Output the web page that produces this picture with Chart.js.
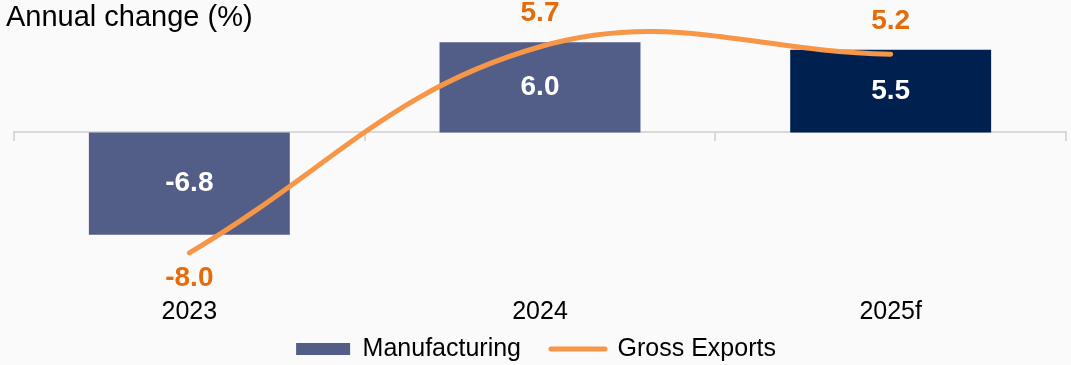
<!DOCTYPE html>
<html>
<head>
<meta charset="utf-8">
<title>Annual change (%)</title>
<script src="https://cdn.jsdelivr.net/npm/chart.js@4.4.1/dist/chart.umd.min.js"></script>
<style>
  html, body { margin: 0; padding: 0; background: #fafafa; }
  #wrap { width: 1071px; height: 365px; position: relative; }
</style>
</head>
<body>
<div id="wrap"><canvas id="chart"></canvas></div>
<script>
// Categories and series
const years = ['2023', '2024', '2025f'];
const manufacturing = [-6.8, 6.0, 5.5];
const grossExports = [-8.0, 5.7, 5.2];
const seriesNames = ['Manufacturing', 'Gross Exports'];
const titleText = 'Annual change (%)';

// Colours
const barColors = ['#525E87', '#525E87', '#002050'];
const lineColor = '#F79646';
const lineLabelColor = '#E46C0A';
const axisColor = '#D9D9D9';
const FONT = "'Liberation Sans', Arial, sans-serif";

// Paint the canvas background
const background = {
  id: 'background',
  beforeDraw(chart) {
    const ctx = chart.ctx;
    ctx.save();
    ctx.fillStyle = '#fafafa';
    ctx.fillRect(0, 0, chart.width, chart.height);
    ctx.restore();
  }
};

// Value labels: inside the bars (white) and beside the line points (orange)
const valueLabels = {
  id: 'valueLabels',
  afterDatasetsDraw(chart) {
    const ctx = chart.ctx;
    ctx.save();
    ctx.font = 'bold 28px ' + FONT;
    ctx.textAlign = 'center';
    ctx.textBaseline = 'middle';

    const barMeta = chart.getDatasetMeta(0);
    barMeta.data.forEach((bar, i) => {
      const v = chart.data.datasets[0].data[i];
      ctx.fillStyle = '#ffffff';
      ctx.fillText(v.toFixed(1), bar.x, (bar.y + bar.base) / 2);
    });

    const lineMeta = chart.getDatasetMeta(1);
    lineMeta.data.forEach((pt, i) => {
      const v = chart.data.datasets[1].data[i];
      ctx.fillStyle = lineLabelColor;
      const y = v >= 0 ? pt.y - 33 : pt.y + 25;
      ctx.fillText(v.toFixed(1), pt.x, y);
    });
    ctx.restore();
  }
};

new Chart(document.getElementById('chart'), {
  type: 'bar',
  data: {
    labels: years,
    datasets: [
      {
        type: 'bar',
        label: seriesNames[0],
        data: manufacturing,
        backgroundColor: barColors,
        borderWidth: 0,
        categoryPercentage: 1.0,
        barPercentage: 0.573,
        order: 1
      },
      {
        type: 'line',
        label: seriesNames[1],
        data: grossExports,
        borderColor: lineColor,
        backgroundColor: lineColor,
        borderWidth: 5,
        borderCapStyle: 'round',
        borderJoinStyle: 'round',
        tension: 0.4,
        cubicInterpolationMode: 'default',
        capBezierPoints: false,
        pointRadius: 0,
        pointHoverRadius: 0,
        fill: false,
        clip: false,
        order: 0
      }
    ]
  },
  options: {
    responsive: true,
    maintainAspectRatio: false,
    animation: false,
    events: [],
    layout: { padding: { left: 6, right: 5, top: 0, bottom: -6.5 } },
    scales: {
      // Category labels sit just under the plot, over the legend's top padding
      x: {
        type: 'category',
        position: 'bottom',
        offset: true,
        grid: { display: false, drawTicks: false, offset: true },
        border: { display: false },
        ticks: { color: '#000000', mirror: true, padding: -20.5, font: { family: FONT, size: 25 } },
        afterFit(scale) { scale.height = 0; }
      },
      // Zero line with category boundary tick marks
      x2: {
        type: 'category',
        position: { y: 0 },
        offset: true,
        grid: {
          display: true,
          offset: true,
          drawOnChartArea: false,
          drawTicks: true,
          tickLength: 8,
          color: axisColor,
          tickColor: axisColor,
          lineWidth: 2
        },
        border: { display: true, color: axisColor, width: 2 },
        ticks: { display: false }
      },
      y: {
        display: true,
        min: -11.567,
        max: 6.427,
        grid: { display: false, drawTicks: false },
        border: { display: false },
        ticks: { display: false },
        afterFit(scale) { scale.width = 8; }
      }
    },
    plugins: {
      title: {
        display: true,
        text: titleText,
        align: 'start',
        color: '#000000',
        font: { family: FONT, size: 29, weight: 'normal' },
        padding: { top: 1, bottom: 0 }
      },
      legend: {
        display: true,
        position: 'bottom',
        labels: {
          color: '#000000',
          font: { family: FONT, size: 25 },
          usePointStyle: true,
          pointStyleWidth: 54,
          boxHeight: 12,
          padding: 30,
          generateLabels() {
            return [
              {
                text: seriesNames[0],
                fillStyle: barColors[0],
                strokeStyle: barColors[0],
                lineWidth: 0,
                pointStyle: 'rect',
                hidden: false,
                datasetIndex: 0
              },
              {
                text: seriesNames[1],
                fillStyle: lineColor,
                strokeStyle: lineColor,
                lineWidth: 5,
                lineCap: 'round',
                pointStyle: 'line',
                hidden: false,
                datasetIndex: 1
              }
            ];
          }
        }
      },
      tooltip: { enabled: false }
    }
  },
  plugins: [background, valueLabels]
});
</script>
</body>
</html>
